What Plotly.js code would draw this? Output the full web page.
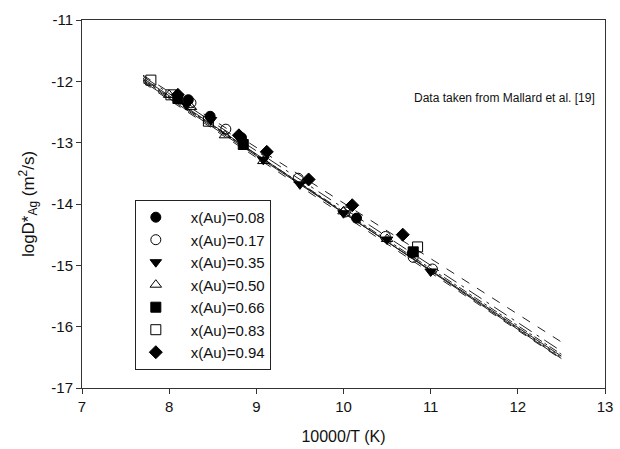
<!DOCTYPE html>
<html>
<head>
<meta charset="utf-8">
<script src="https://cdn.plot.ly/plotly-3.0.1.min.js"></script>
<style>body{margin:0;background:#fff}#chart{width:620px;height:449px}</style>
</head>
<body>
<div id="chart"></div>
<script>
// Series labels
var seriesNames = ["x(Au)=0.08","x(Au)=0.17","x(Au)=0.35","x(Au)=0.50","x(Au)=0.66","x(Au)=0.83","x(Au)=0.94"];
// Tick labels
var xTickVals = [7, 8, 9, 10, 11, 12, 13];
var xTickText = ["7", "8", "9", "10", "11", "12", "13"];
var yTickVals = [-17, -16, -15, -14, -13, -12, -11];
var yTickText = ["-17", "-16", "-15", "-14", "-13", "-12", "-11"];
// Measured points (10000/T, logD*)
var x008 = [8.22, 8.47, 8.83, 10.15, 10.79];
var y008 = [-12.30, -12.57, -12.92, -14.23, -14.80];
var x017 = [8.25, 8.65, 9.48, 10.02, 10.48, 10.80, 11.02];
var y017 = [-12.35, -12.78, -13.58, -14.13, -14.53, -14.87, -15.06];
var x035 = [8.20, 8.48, 9.08, 9.50, 10.00, 10.50, 11.00];
var y035 = [-12.38, -12.63, -13.28, -13.68, -14.15, -14.58, -15.10];
var x050 = [8.00, 8.25, 8.64, 9.08, 10.00, 10.50];
var y050 = [-12.22, -12.42, -12.88, -13.30, -14.12, -14.57];
var x066 = [8.10, 8.85, 10.80];
var y066 = [-12.28, -13.03, -14.78];
var x083 = [7.79, 8.02, 8.45, 10.85];
var y083 = [-11.98, -12.22, -12.65, -14.70];
var x094 = [8.10, 8.80, 9.12, 9.60, 10.10, 10.68];
var y094 = [-12.22, -12.88, -13.15, -13.60, -14.02, -14.50];
// Fitted Arrhenius lines (end points)
var fitX = [7.7, 12.5];
var fit008 = [-11.95, -16.52];
var fit017 = [-11.97, -16.50];
var fit035 = [-12.02, -16.53];
var fit050 = [-11.98, -16.45];
var fit066 = [-12.00, -16.48];
var fit083 = [-11.92, -16.40];
var fit094 = [-11.90, -16.25];

var ptsX = [x008,x017,x035,x050,x066,x083,x094];
var ptsY = [y008,y017,y035,y050,y066,y083,y094];
var fits = [fit008,fit017,fit035,fit050,fit066,fit083,fit094];
var symbols = ["circle","circle-open","triangle-down","triangle-up-open","square","square-open","diamond"];
var dashes = ["solid","dot","dash","dashdot","solid","longdashdot","dash"];

var traces = [];
for (var i=0;i<fits.length;i++){
  traces.push({x:fitX, y:fits[i], mode:"lines", showlegend:false, hoverinfo:"skip",
    line:{color:"#222", width:1, dash:dashes[i]}});
}
for (var i=0;i<ptsX.length;i++){
  traces.push({x:ptsX[i], y:ptsY[i], mode:"markers", name:"\u2002\u2002" + seriesNames[i],
    marker:{symbol:symbols[i], size:10, color:"#000", line:{color:"#000", width:1}}});
}

var layout = {
  width:620, height:449,
  margin:{l:82, r:15, t:20, b:61},
  paper_bgcolor:"#fff", plot_bgcolor:"#fff",
  font:{family:"Liberation Sans, Arial, sans-serif", color:"#111", size:14},
  showlegend:true,
  legend:{x:0.101, y:0.511, xanchor:"left", yanchor:"top", bordercolor:"#222", borderwidth:1,
    font:{size:15}, bgcolor:"#fff", itemwidth:30},
  xaxis:{range:[7,13], tickmode:"array", tickvals:xTickVals, ticktext:xTickText,
    showgrid:false, zeroline:false, showline:true, linecolor:"#333",
    linewidth:1, mirror:true, ticks:"outside", ticklen:5, tickcolor:"#333",
    tickfont:{size:15},
    title:{text:"10000/T (K)", font:{size:16}, standoff:16}},
  yaxis:{range:[-17,-11], tickmode:"array", tickvals:yTickVals, ticktext:yTickText,
    showgrid:false, zeroline:false, showline:true, linecolor:"#333",
    linewidth:1, mirror:true, ticks:"outside", ticklen:5, tickcolor:"#333",
    tickfont:{size:15},
    title:{text:"logD*<sub>Ag</sub> (m<sup>2</sup>/s)", font:{size:17}, standoff:12}},
  annotations:[{x:0.808, y:0.789, xref:"paper", yref:"paper", xanchor:"center", yanchor:"middle",
    showarrow:false, text:"Data taken from Mallard et al. [19]", font:{size:12}}]
};
Plotly.newPlot("chart", traces, layout, {displayModeBar:false, staticPlot:true});
</script>
</body>
</html>
